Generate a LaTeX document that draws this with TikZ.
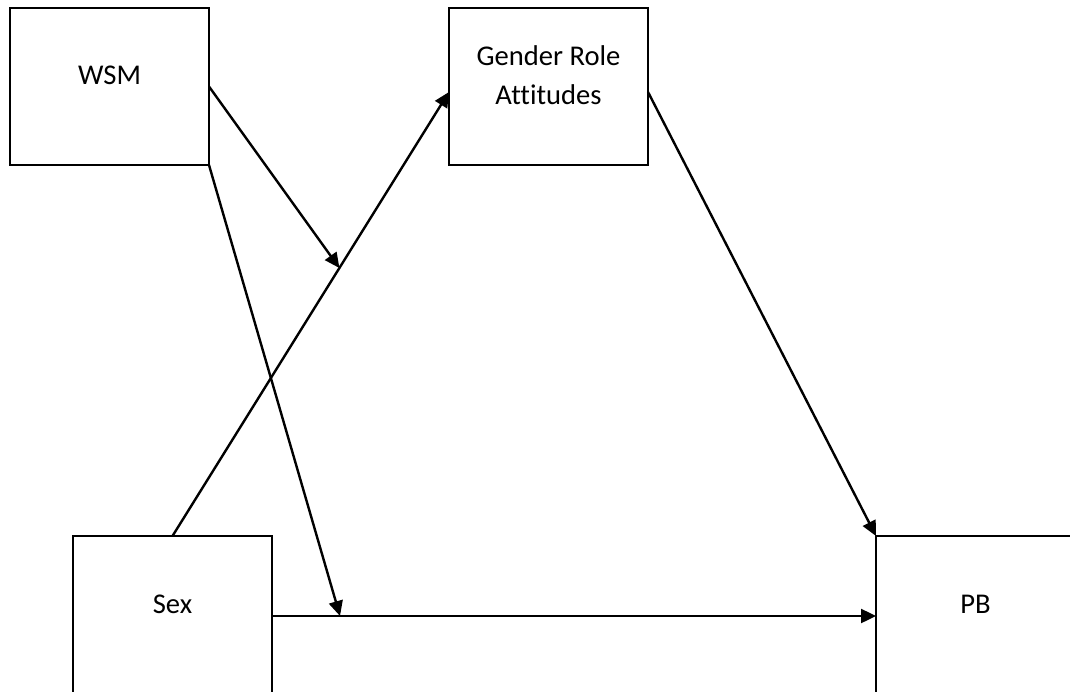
\documentclass[tikz,border=0pt]{standalone}
\usepackage{fontspec}
\setmainfont{Carlito}[Ligatures=NoCommon]
\usetikzlibrary{arrows.meta,calc}
\begin{document}
\begin{tikzpicture}[x=1pt,y=-1pt,
  box/.style={draw, line width=2.4pt, minimum width=199pt, minimum height=157pt,
    inner sep=0pt, outer sep=0pt, anchor=north west},
  lbl/.style={font=\fontsize{28.6}{39}\selectfont, align=center, inner sep=0pt, anchor=base},
  conn/.style={line width=2.4pt, -{Triangle[length=15pt,width=14pt]}}]
\useasboundingbox (0,0) rectangle (1070,692);

% boxes
\node[box] (wsm) at (10,8) {};
\node[box] (gra) at (449,8) {};
\node[box, minimum height=160pt] (sex) at (73,536) {};
\node[box, minimum height=160pt] (pb) at (876,536) {};

% labels (base anchor sits on the last line's baseline)
\node[lbl] (wsmtext) at ($(wsm.north)+(0,77)$) {WSM};
\node[lbl] (gratext) at ($(gra.north)+(0,97)$) {Gender Role\\Attitudes};
\node[lbl] (sextext) at ($(sex.north)+(0,77)$) {Sex};
\node[lbl] (pbtext) at ($(pb.north)+(0,77)$) {PB};

% connector end points
\coordinate (graleft) at ($(gra.north west)!0.535!(gra.south west)$);
\coordinate (graright) at ($(gra.north east)!0.535!(gra.south east)$);
\coordinate (sexpb) at (sex.east -| pb.west);
\coordinate (mod1) at ($(sex.north)!0.6036!(graleft)$);
\coordinate (mod2) at ($(sex.east)!0.1126!(sexpb)$);

% paths
\draw[conn] (sex.north) -- (graleft);
\draw[conn] (graright) -- (pb.north west);
\draw[conn] (sex.east) -- (sexpb);
\draw[conn] (wsm.east) -- (mod1);
\draw[conn] (wsm.south east) -- (mod2);
\end{tikzpicture}
\end{document}
